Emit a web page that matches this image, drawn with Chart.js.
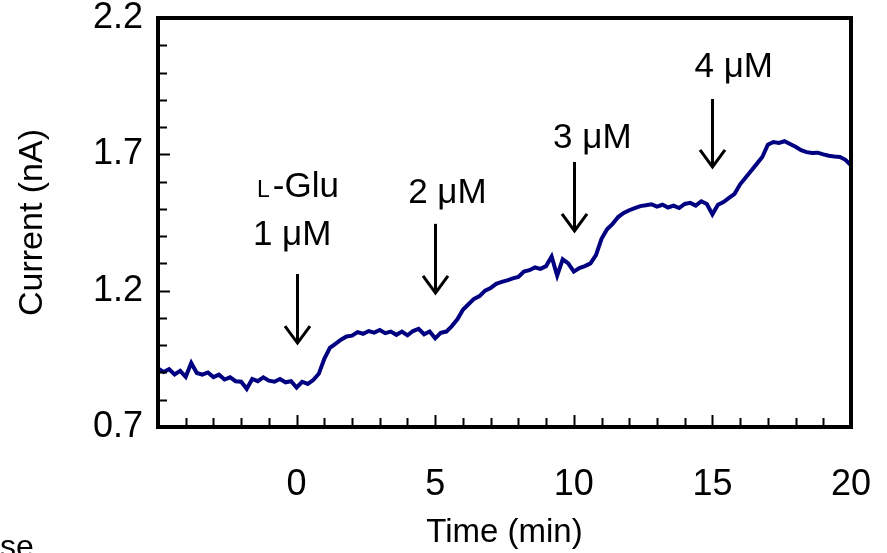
<!DOCTYPE html>
<html>
<head>
<meta charset="utf-8">
<style>
  html, body { margin: 0; padding: 0; background: #ffffff; }
  canvas { display: block; }
</style>
<script src="https://cdn.jsdelivr.net/npm/chart.js@4.4.1/dist/chart.umd.min.js"></script>
</head>
<body>
<canvas id="c" width="887" height="553"></canvas>
<script>
// ---- data ----
const times = [
  -5, -4.8, -4.6, -4.4, -4.2, -4, -3.8, -3.6, -3.4, -3.2, -3, -2.8, -2.6, -2.4, -2.2, -2, -1.8, -1.6, -1.4, -1.2, -1, -0.8, -0.6, -0.4, -0.2,
  0, 0.2, 0.4, 0.6, 0.8, 1, 1.2, 1.4, 1.6, 1.8, 2, 2.2, 2.4, 2.6, 2.8, 3, 3.2, 3.4, 3.6, 3.8, 4, 4.2, 4.4, 4.6, 4.8,
  5, 5.2, 5.4, 5.6, 5.8, 6, 6.2, 6.4, 6.6, 6.8, 7, 7.2, 7.4, 7.6, 7.8, 8, 8.2, 8.4, 8.6, 8.8, 9, 9.2, 9.4, 9.6, 9.8,
  10, 10.2, 10.4, 10.6, 10.8, 11, 11.2, 11.4, 11.6, 11.8, 12, 12.2, 12.4, 12.6, 12.8, 13, 13.2, 13.4, 13.6, 13.8, 14, 14.2, 14.4, 14.6, 14.8,
  15, 15.2, 15.4, 15.6, 15.8, 16, 16.2, 16.4, 16.6, 16.8, 17, 17.2, 17.4, 17.6, 17.8, 18, 18.2, 18.4, 18.6, 18.8, 19, 19.2, 19.4, 19.6, 19.8,
  20
];
const current = [
  0.915, 0.902, 0.912, 0.893, 0.906, 0.884, 0.935, 0.898, 0.892, 0.9, 0.883, 0.892, 0.874, 0.882, 0.868, 0.866, 0.84, 0.876, 0.868, 0.882, 0.87, 0.866, 0.876, 0.864, 0.868,
  0.845, 0.866, 0.858, 0.872, 0.895, 0.95, 0.99, 1.005, 1.02, 1.032, 1.035, 1.048, 1.042, 1.052, 1.046, 1.056, 1.044, 1.05, 1.038, 1.05, 1.036, 1.052, 1.06, 1.04, 1.05,
  1.025, 1.045, 1.05, 1.07, 1.095, 1.13, 1.15, 1.17, 1.18, 1.2, 1.21, 1.225, 1.232, 1.238, 1.245, 1.25, 1.27, 1.275, 1.285, 1.28, 1.29, 1.325, 1.255, 1.315, 1.3,
  1.27, 1.283, 1.29, 1.3, 1.33, 1.39, 1.425, 1.445, 1.47, 1.485, 1.495, 1.503, 1.51, 1.513, 1.517, 1.508, 1.515, 1.505, 1.512, 1.503, 1.518, 1.522, 1.512, 1.528, 1.518,
  1.48, 1.515, 1.525, 1.54, 1.555, 1.59, 1.615, 1.64, 1.665, 1.69, 1.735, 1.745, 1.742, 1.748, 1.738, 1.728, 1.715, 1.708, 1.705, 1.706, 1.7, 1.695, 1.692, 1.69, 1.68,
  1.66
];
const xTickLabels = ['0', '5', '10', '15', '20'];
const yTickLabels = ['0.7', '1.2', '1.7', '2.2'];

// injection arrows (time, tip value, tail value) and their labels
const arrowTimes = [0, 5, 10, 15];
const arrowTips = [1.008, 1.192, 1.419, 1.654];
const arrowTails = [1.261, 1.445, 1.672, 1.903];
const labelTexts = ['1 μM', '2 μM', '3 μM', '4 μM'];
const labelTimes = [-0.16, 5.44, 10.67, 15.77];
const labelBaselines = [1.368, 1.522, 1.723, 1.984];
const gluLabel = { time: 0.05, baseline: 1.544 };

const FONT = '"Liberation Sans", Arial, Helvetica, sans-serif';

const points = times.map((t, i) => ({ x: t, y: current[i] }));

const whiteBg = {
  id: 'whiteBg',
  beforeDraw(chart) {
    const ctx = chart.ctx;
    ctx.save();
    ctx.fillStyle = '#ffffff';
    ctx.fillRect(0, 0, chart.width, chart.height);
    ctx.restore();
  }
};

const frameAndTicks = {
  id: 'frameAndTicks',
  afterDatasetsDraw(chart) {
    const ctx = chart.ctx;
    const a = chart.chartArea;
    const xs = chart.scales.x, ys = chart.scales.y;
    ctx.save();
    ctx.strokeStyle = '#000000';
    // inward tick marks
    ctx.lineWidth = 2;
    xs.ticks.forEach(t => {
      if (t.value <= xs.min + 1e-6 || t.value >= xs.max - 1e-6) return;
      const px = Math.round(xs.getPixelForValue(t.value)) + 0.5;
      const major = xTickLabels.includes(String(Math.round(t.value)));
      const len = major ? 12 : 9;
      ctx.beginPath();
      ctx.moveTo(px, a.bottom);
      ctx.lineTo(px, a.bottom - len);
      ctx.stroke();
    });
    ys.ticks.forEach(t => {
      if (t.value <= ys.min + 1e-6 || t.value >= ys.max - 1e-6) return;
      const py = Math.round(ys.getPixelForValue(t.value)) + 0.5;
      const major = yTickLabels.includes(t.value.toFixed(1));
      const len = major ? 12 : 9;
      ctx.beginPath();
      ctx.moveTo(a.left, py);
      ctx.lineTo(a.left + len, py);
      ctx.stroke();
    });
    // frame
    ctx.lineWidth = 4;
    ctx.strokeRect(a.left, a.top, a.right - a.left, a.bottom - a.top);
    ctx.restore();
  },
  afterDraw(chart) {
    const ctx = chart.ctx;
    const xs = chart.scales.x, ys = chart.scales.y;
    ctx.save();
    ctx.strokeStyle = '#000000';
    ctx.fillStyle = '#000000';
    ctx.lineWidth = 3;
    ctx.lineCap = 'butt';
    // arrows
    arrowTimes.forEach((t, i) => {
      const px = Math.round(xs.getPixelForValue(t)) + 0.5;
      const yTip = ys.getPixelForValue(arrowTips[i]);
      const yTail = ys.getPixelForValue(arrowTails[i]);
      ctx.beginPath();
      ctx.moveTo(px, yTail);
      ctx.lineTo(px, yTip - 1);
      ctx.stroke();
      ctx.beginPath();
      ctx.moveTo(px - 12.5, yTip - 17);
      ctx.lineTo(px, yTip);
      ctx.lineTo(px + 12.5, yTip - 17);
      ctx.stroke();
    });
    // labels
    ctx.textBaseline = 'alphabetic';
    ctx.textAlign = 'center';
    ctx.font = '35px ' + FONT;
    labelTexts.forEach((s, i) => {
      ctx.fillText(s, xs.getPixelForValue(labelTimes[i]), ys.getPixelForValue(labelBaselines[i]));
    });
    // "L-Glu" with small-capital L
    const gx = xs.getPixelForValue(gluLabel.time);
    const gy = ys.getPixelForValue(gluLabel.baseline);
    const gap = 3;
    ctx.font = '23px ' + FONT;
    const wL = ctx.measureText('L').width;
    ctx.font = '35px ' + FONT;
    const wRest = ctx.measureText('-Glu').width;
    const start = gx - (wL + gap + wRest) / 2;
    ctx.textAlign = 'left';
    ctx.font = '23px ' + FONT;
    ctx.fillText('L', start, gy);
    ctx.font = '35px ' + FONT;
    ctx.fillText('-Glu', start + wL + gap, gy);
    // clipped caption fragment at bottom-left
    ctx.font = '32px ' + FONT;
    ctx.fillText('se', 0, 557);
    ctx.restore();
  }
};

function zeroPadding(scale) {
  scale.paddingLeft = 0;
  scale.paddingRight = 0;
  scale.paddingTop = 0;
  scale.paddingBottom = 0;
}

new Chart(document.getElementById('c'), {
  type: 'line',
  data: {
    datasets: [{
      data: points,
      borderColor: '#000080',
      borderWidth: 4,
      pointRadius: 0,
      tension: 0,
      stepped: false,
      borderJoinStyle: 'miter',
      fill: false
    }]
  },
  options: {
    responsive: false,
    animation: false,
    devicePixelRatio: 1,
    layout: { padding: { left: 0, right: 36, top: 18, bottom: 0 } },
    plugins: { legend: { display: false }, tooltip: { enabled: false } },
    scales: {
      x: {
        type: 'linear',
        min: -5, max: 20,
        grid: { display: false, drawTicks: false },
        border: { display: false },
        afterFit(scale) { scale.height = 126; zeroPadding(scale); },
        ticks: {
          stepSize: 1,
          autoSkip: false,
          maxRotation: 0,
          padding: 36,
          color: '#000000',
          font: { family: FONT, size: 36 },
          callback(v) { const s = String(Math.round(v)); return (Math.abs(v - Math.round(v)) < 1e-6 && xTickLabels.includes(s)) ? s : ''; }
        },
        title: {
          display: true,
          text: 'Time (min)',
          color: '#000000',
          font: { family: FONT, size: 33 },
          padding: { top: 0, bottom: 0 }
        }
      },
      y: {
        type: 'linear',
        min: 0.7, max: 2.2,
        grid: { display: false, drawTicks: false },
        border: { display: false },
        afterFit(scale) { scale.width = 158; zeroPadding(scale); },
        ticks: {
          stepSize: 0.1,
          autoSkip: false,
          padding: 15,
          color: '#000000',
          font: { family: FONT, size: 36, lineHeight: 1 },
          callback(v) { const s = v.toFixed(1); return yTickLabels.includes(s) ? s : ''; }
        },
        title: {
          display: true,
          text: 'Current (nA)',
          color: '#000000',
          font: { family: FONT, size: 34 },
          padding: { top: 12, bottom: 0 }
        }
      }
    }
  },
  plugins: [whiteBg, frameAndTicks]
});
</script>
</body>
</html>
